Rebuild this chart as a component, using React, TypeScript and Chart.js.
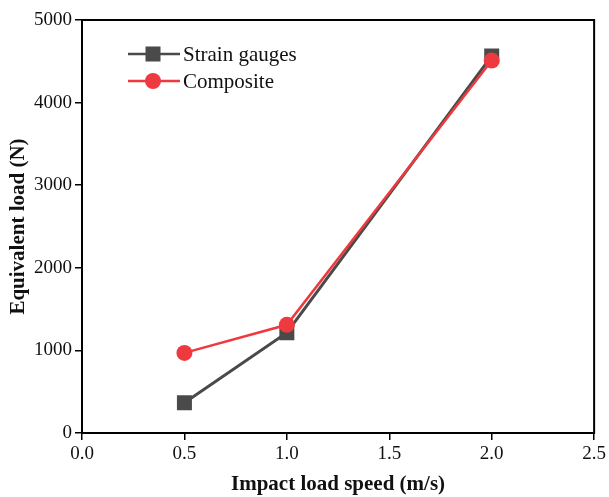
import React, { useEffect, useRef } from "react";
import { Chart, registerables } from "chart.js";

Chart.register(...registerables);

const speeds = [0.5, 1.0, 2.0];
const strainGauges = [365, 1215, 4565];
const composite = [970, 1310, 4510];
const seriesNames = ["Strain gauges", "Composite"];
const xTitle = "Impact load speed (m/s)";
const yTitle = "Equivalent load (N)";

const FONT = "'Liberation Serif', 'Times New Roman', serif";

const frameAndLegend = {
  id: "frameAndLegend",
  afterDatasetsDraw(chart: any) {
    const { ctx, chartArea } = chart;
    ctx.save();
    ctx.strokeStyle = "#000";
    ctx.lineWidth = 2;
    ctx.strokeRect(chartArea.left, chartArea.top, chartArea.right - chartArea.left, chartArea.bottom - chartArea.top);
    const items = [
      { ds: chart.data.datasets[1], y: 54 },
      { ds: chart.data.datasets[0], y: 81 },
    ];
    items.forEach(({ ds, y }) => {
      ctx.strokeStyle = ds.borderColor;
      ctx.lineWidth = 2.5;
      ctx.beginPath();
      ctx.moveTo(128, y);
      ctx.lineTo(180, y);
      ctx.stroke();
      ctx.fillStyle = ds.backgroundColor;
      if (ds.pointStyle === "rect") {
        ctx.fillRect(153 - 7.5, y - 7.5, 15, 15);
      } else {
        ctx.beginPath();
        ctx.arc(153, y, 8, 0, Math.PI * 2);
        ctx.fill();
      }
      ctx.fillStyle = "#111";
      ctx.font = `21px ${FONT}`;
      ctx.textBaseline = "middle";
      ctx.textAlign = "left";
      ctx.fillText(ds.label, 183, y + 1);
    });
    ctx.restore();
  },
};

export default function App() {
  const ref = useRef<HTMLCanvasElement>(null);
  useEffect(() => {
    const chart = new Chart(ref.current!, {
      type: "line",
      data: {
        datasets: [
          {
            label: seriesNames[1],
            data: speeds.map((x, i) => ({ x, y: composite[i] })),
            borderColor: "#ee3a3f",
            backgroundColor: "#ee3a3f",
            borderWidth: 2.5,
            pointStyle: "circle",
            pointRadius: 8,
            pointBorderWidth: 0,
            order: 0,
          },
          {
            label: seriesNames[0],
            data: speeds.map((x, i) => ({ x, y: strainGauges[i] })),
            borderColor: "#4a4a4a",
            backgroundColor: "#4a4a4a",
            borderWidth: 3,
            pointStyle: "rect",
            pointRadius: 10.6,
            pointBorderWidth: 0,
            order: 1,
          },
        ],
      },
      options: {
        responsive: false,
        animation: false,
        layout: { padding: { top: 20, right: 14, left: 0, bottom: 0 } },
        plugins: { legend: { display: false }, tooltip: { enabled: false } },
        scales: {
          x: {
            type: "linear",
            min: 0,
            max: 2.5,
            afterFit: (s: any) => { s.height = 64; },
            border: { display: false },
            grid: { drawOnChartArea: false, color: "#000", lineWidth: 1.5, tickLength: 7 },
            ticks: {
              stepSize: 0.5,
              color: "#111",
              padding: 3,
              font: { family: FONT, size: 19 },
              callback: (v: any) => Number(v).toFixed(1),
            },
            title: {
              display: true,
              text: xTitle,
              color: "#111",
              font: { family: FONT, size: 21, weight: "bold" },
              padding: { top: 0, bottom: 0 },
            },
          },
          y: {
            min: 0,
            max: 5000,
            afterFit: (s: any) => { s.width = 82; },
            border: { display: false },
            grid: { drawOnChartArea: false, color: "#000", lineWidth: 1.5, tickLength: 7 },
            ticks: {
              stepSize: 1000,
              color: "#111",
              padding: 3,
              font: { family: FONT, size: 19 },
              callback: (v: any) => String(v),
            },
            title: {
              display: true,
              text: yTitle,
              color: "#111",
              font: { family: FONT, size: 21, weight: "bold" },
              padding: { top: 6, bottom: 0 },
            },
          },
        },
      },
      plugins: [frameAndLegend],
    });
    return () => chart.destroy();
  }, []);
  return (
    <div style={{ position: "absolute", left: 0, top: 0, width: 609, height: 497, background: "#fff" }}>
      <canvas ref={ref} width={609} height={497} />
    </div>
  );
}
